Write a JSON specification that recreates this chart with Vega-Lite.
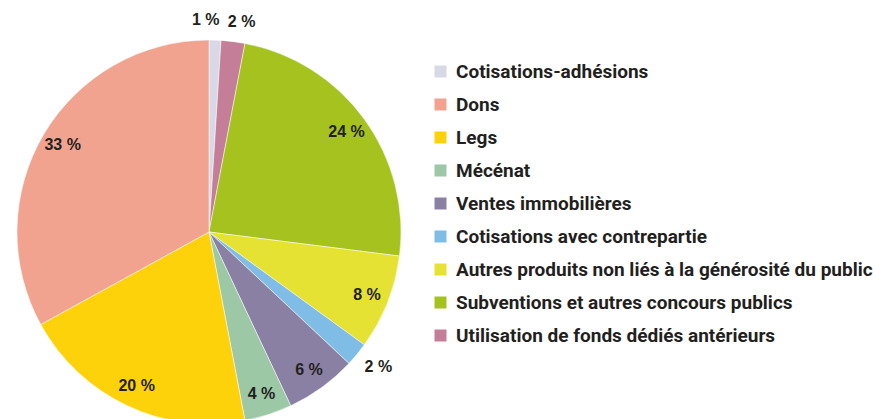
{
  "$schema": "https://vega.github.io/schema/vega-lite/v6.json",
  "width": 418,
  "height": 464,
  "autosize": {"type": "none"},
  "padding": {"left": 0, "top": 0, "right": 455, "bottom": 0},
  "background": "white",
  "data": {
    "values": [
      {"categorie": "Cotisations-adhésions", "value": 1, "slice": 1},
      {"categorie": "Utilisation de fonds dédiés antérieurs", "value": 2, "slice": 2},
      {"categorie": "Subventions et autres concours publics", "value": 24, "slice": 3},
      {"categorie": "Autres produits non liés à la générosité du public", "value": 8, "slice": 4},
      {"categorie": "Cotisations avec contrepartie", "value": 2, "slice": 5},
      {"categorie": "Ventes immobilières", "value": 6, "slice": 6},
      {"categorie": "Mécénat", "value": 4, "slice": 7},
      {"categorie": "Legs", "value": 20, "slice": 8},
      {"categorie": "Dons", "value": 33, "slice": 9}
    ]
  },
  "transform": [
    {"stack": "value", "groupby": [], "sort": [{"field": "slice", "order": "ascending"}], "as": ["v0", "v1"]},
    {"calculate": "(datum.v0 + datum.v1) / 2", "as": "mid"},
    {"calculate": "datum.value + ' %'", "as": "lbl"}
  ],
  "layer": [
    {
      "mark": {"type": "arc", "outerRadius": 192, "stroke": "white", "strokeWidth": 0.5},
      "encoding": {
        "theta": {"field": "v0", "type": "quantitative", "scale": {"domain": [0, 100], "zero": true}},
        "theta2": {"field": "v1"},
        "color": {
          "field": "categorie",
          "type": "nominal",
          "scale": {
            "domain": ["Cotisations-adhésions", "Dons", "Legs", "Mécénat", "Ventes immobilières", "Cotisations avec contrepartie", "Autres produits non liés à la générosité du public", "Subventions et autres concours publics", "Utilisation de fonds dédiés antérieurs"],
            "range": ["#d8d8e6", "#f2a390", "#fdd20a", "#9cc8a6", "#8a80a4", "#7fbde6", "#e5e234", "#a5c21f", "#c47e97"]
          },
          "legend": {
            "title": null,
            "orient": "none",
            "legendX": 431,
            "legendY": 62,
            "symbolType": "square",
            "symbolSize": 144,
            "symbolStrokeWidth": 0,
            "labelFont": "Roboto",
            "labelFontSize": 19,
            "labelFontWeight": "bold",
            "labelColor": "#231f20",
            "labelOffset": 6,
            "labelLimit": 0,
            "rowPadding": 13
          }
        }
      }
    },
    {
      "transform": [{"filter": "datum.value >= 4"}],
      "mark": {"type": "text", "radius": 170, "font": "Liberation Sans, Arial", "fontSize": 16, "fontWeight": "bold", "color": "#231f20"},
      "encoding": {
        "theta": {"field": "mid", "type": "quantitative"},
        "text": {"field": "lbl"}
      }
    },
    {
      "transform": [{"filter": "datum.value < 4 && datum.slice > 1"}],
      "mark": {"type": "text", "radius": 212, "dx": 6, "font": "Liberation Sans, Arial", "fontSize": 16, "fontWeight": "bold", "color": "#231f20"},
      "encoding": {
        "theta": {"field": "mid", "type": "quantitative"},
        "text": {"field": "lbl"}
      }
    },
    {
      "transform": [{"filter": "datum.slice == 1"}],
      "mark": {"type": "text", "radius": 212, "dx": -10, "font": "Liberation Sans, Arial", "fontSize": 16, "fontWeight": "bold", "color": "#231f20"},
      "encoding": {
        "theta": {"field": "mid", "type": "quantitative"},
        "text": {"field": "lbl"}
      }
    }
  ]
}
